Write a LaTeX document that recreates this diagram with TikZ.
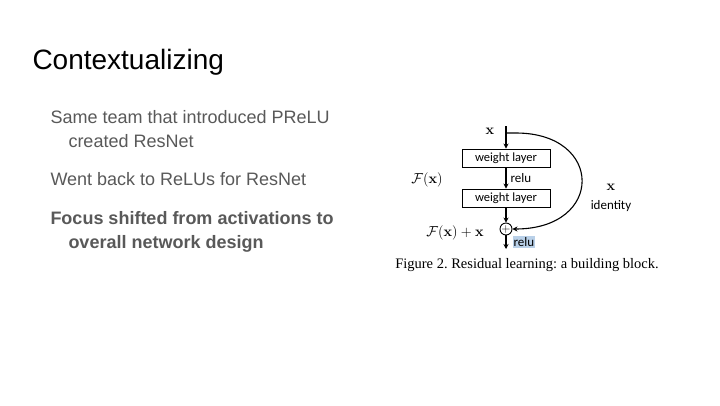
\documentclass[tikz,border=0pt]{standalone}
\usepackage[no-math]{fontspec}
\setmainfont{Liberation Sans}
\newfontfamily\figfont{Carlito}
\newfontfamily\capfont{Liberation Serif}
\usetikzlibrary{arrows.meta}
\definecolor{cgrey}{HTML}{595959}
\definecolor{chigh}{HTML}{B9D0E8}
\frenchspacing
\tikzset{
  every picture/.style={line width=1pt},
  title/.style={font=\fontsize{28}{32}\selectfont, anchor=base west, inner sep=0pt},
  item/.style={font=\fontsize{18}{22}\selectfont, text=cgrey, anchor=base west, inner sep=0pt},
  layer/.style={draw, line width=0.9pt, minimum width=88pt, minimum height=18pt, inner sep=0pt, font=\figfont\fontsize{12.5}{13}\selectfont},
  arrow/.style={-{Stealth[length=5pt, width=5pt]}, line width=1.1pt},
  note/.style={font=\figfont\fontsize{13}{14}\selectfont, inner sep=1pt},
  mathlbl/.style={font=\fontsize{15}{16}\selectfont, inner sep=0pt},
}

\begin{document}
\begin{tikzpicture}[x=1pt, y=-1pt]
  \fill[white] (0,0) rectangle (720,405);
  \useasboundingbox (0,0) rectangle (720,405);
  % slide text
  \node[title] (head) at (32,69) {Contextualizing};
  \node[item] (p1) at (50,123) {Same team that introduced PReLU};
  \node[item] (p1b) at (68,147) {created ResNet};
  \node[item] (p2) at (50,185) {Went back to ReLUs for ResNet};
  \node[item, font=\fontsize{18}{22}\selectfont\bfseries] (p3) at (50,224) {Focus shifted from activations to};
  \node[item, font=\fontsize{18}{22}\selectfont\bfseries] (p3b) at (68,248) {overall network design};
  % residual block
  \coordinate (top) at (506,126);
  \coordinate (split) at (506,133);
  \node[mathlbl] (xin) at (490,131) {$\mathbf{x}$};
  \node[layer] (wl1) at (506,158) {weight layer};
  \node[layer] (wl2) at (506,198) {weight layer};
  \node[circle, draw, line width=0.9pt, minimum size=12pt, inner sep=0pt, font=\fontsize{12}{12}\selectfont] (add) at (506,229) {$+$};
  \coordinate (out) at (506,249);
  \draw[arrow] (top) -- (wl1);
  \draw[arrow] (wl1) -- (wl2) node[midway, right, note, xshift=3pt] (r1) {relu};
  \draw[arrow] (wl2) -- (add);
  \draw[arrow] (add) -- (out);
  \draw[arrow] (split) -- ++(10,0) .. controls +(88,0) and +(92,0) .. (add.east);
  \node[note, fill=chigh, anchor=west] (r2) at (512,242) {relu};
  \node[mathlbl] (fx) at (427,180) {$\mathcal{F}(\mathbf{x})$};
  \node[mathlbl] (fxx) at (455,233) {$\mathcal{F}(\mathbf{x}) + \mathbf{x}$};
  \node[mathlbl] (xid) at (611,187) {$\mathbf{x}$};
  \node[note] (id) at (611,206) {identity};
  \node[font=\capfont\fontsize{14.5}{16}\selectfont, anchor=base, inner sep=0pt] (cap) at (527,268) {Figure 2. Residual learning: a building block.};
\end{tikzpicture}
\end{document}
